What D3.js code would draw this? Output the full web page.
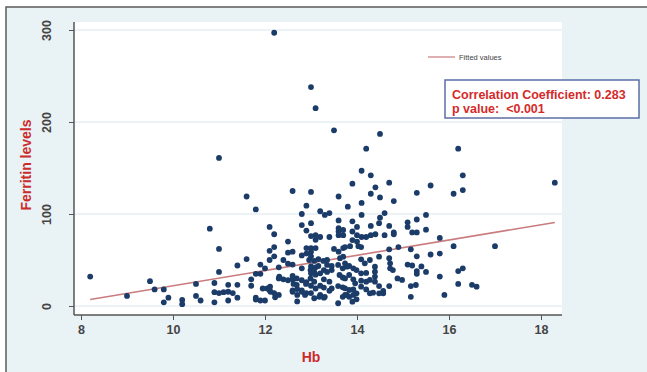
<!DOCTYPE html>
<html>
<head>
<meta charset="utf-8">
<script src="https://cdn.jsdelivr.net/npm/d3@7"></script>
<style>
  html, body { margin: 0; padding: 0; background: #ffffff; }
  svg { display: block; }
</style>
</head>
<body>
<svg id="chart" width="647" height="372"></svg>
<script>
// ---------------- data ----------------
const hb = [
  12.2, 13.0, 13.1, 11.0, 11.6, 11.8, 12.6, 13.0, 12.9, 12.8, 13.2, 13.3, 13.4, 13.5, 14.5, 14.2, 16.2, 14.1, 14.3, 16.3,
  14.7, 13.9, 15.6, 18.3, 14.4, 14.3, 14.5, 15.3, 16.1, 16.3, 13.6, 14.8, 14.1, 13.8, 14.6, 14.5, 14.1, 13.6, 13.9, 14.0,
  14.3, 14.7, 15.1, 15.1, 15.3, 15.5, 13.0, 12.8, 12.9, 13.1, 13.2, 13.4, 13.6, 13.6, 13.7, 13.9, 14.0, 14.1, 14.2, 14.3,
  14.4, 14.6, 14.8, 14.8, 15.2, 15.3, 15.5, 15.8, 17.0, 16.1, 15.8, 15.6, 15.3, 15.4, 15.5, 15.3, 15.3, 15.1, 15.2, 15.8,
  16.2, 16.3, 16.2, 16.5, 16.6, 15.9,
  8.2, 9.0, 9.5, 9.6, 9.8, 9.9, 9.8, 10.2, 10.2, 10.5, 10.5, 10.6, 10.8, 10.9, 10.9, 10.9, 11.0, 11.0, 11.0, 11.1,
  11.2, 11.2, 11.2, 11.3, 11.4, 11.4, 11.4, 11.6, 11.7, 11.7, 11.8, 11.8, 11.8, 11.9, 12.0, 11.9, 11.9, 12.0, 12.1, 12.2,
  12.1, 12.2, 12.1, 12.05, 12.1, 12.2, 12.3, 12.3, 12.4, 12.3, 12.5, 12.5, 12.6, 12.5, 12.5, 12.6, 12.6, 12.7, 12.7, 13.1,
  13.0, 13.1, 12.8, 13.0, 12.8, 13.0, 13.1, 13.0, 13.1, 13.2, 12.8, 12.9, 13.0, 13.1, 13.2, 12.8, 12.9, 13.0, 13.2, 13.3,
  13.6, 13.0, 12.9, 12.9, 13.0, 13.5, 13.6, 13.7, 12.2, 12.4, 12.6, 12.96, 13.07, 13.16, 13.27, 13.35, 13.16, 13.35, 13.45, 12.99,
  13.07, 13.28, 13.35, 13.45, 13.59, 13.69, 13.78, 13.62, 13.69, 12.31, 12.6, 12.69, 12.99, 13.07, 13.28, 13.40, 12.62, 12.69, 12.89, 13.28,
  13.40, 13.45, 13.59, 13.69, 11.95, 12.11, 12.12, 12.22, 12.6, 12.7, 12.8, 12.87, 13.07, 13.18, 13.28, 13.59, 13.69, 13.78,
  14.48, 13.70, 13.90, 14.0, 14.03, 14.09, 13.74, 13.85, 13.63, 13.70, 14.28, 14.70, 14.90, 15.17, 14.48, 14.70, 14.72, 14.72, 14.78, 14.39,
  14.39, 14.39, 14.88, 14.98, 14.09, 14.17, 13.74, 13.83, 13.92, 13.99, 14.09, 14.2, 13.74, 13.83, 13.92, 13.96, 14.09, 14.2, 14.28, 14.39,
  14.48, 14.57, 14.7, 14.28, 14.35, 14.48, 14.57, 15.17, 15.28, 15.17, 13.74, 13.83, 13.92, 13.99, 13.74, 13.83, 13.92, 14.09, 14.2, 13.9,
  13.99
];
const ferritin = [
  297, 238, 215, 161, 119, 105, 125, 124, 109, 100, 103, 99, 101, 191, 187, 171, 171, 147, 142, 142,
  134, 133, 131, 134, 129, 122, 118, 123, 122, 126, 119, 114, 112, 108, 101, 96, 99, 93, 92, 86,
  87, 87, 91, 86, 94, 99, 90, 88, 82, 77, 75, 75, 81, 77, 77, 81, 77, 75, 75, 77,
  78, 77, 80, 78, 80, 80, 83, 74, 65, 65, 57, 56, 54, 43, 37, 38, 35, 45, 44, 32,
  38, 41, 24, 23, 21, 12,
  32, 11, 27, 18, 18, 9, 4, 6.5, 2, 24, 11, 6, 84, 25, 15, 4, 62, 37, 14, 15,
  23, 15.5, 6, 14, 9, 23, 44, 51, 29, 22, 35, 9, 7, 45, 41, 35, 6, 6, 86, 78,
  60, 64, 50, 19, 17, 14, 12, 30, 29, 42, 70, 58, 59, 46, 28, 29, 17, 18.5, 5, 72,
  63, 63, 55, 54, 41, 43, 42, 35.5, 34, 35.5, 28, 26, 22, 19, 22, 17, 14, 14, 12, 10,
  84.5, 76, 63, 57, 59, 62, 59, 63, 54, 50, 45, 50, 49, 51, 49, 50, 43.5, 44.6, 43.5, 39,
  37, 39, 37, 39, 44.6, 41, 42.7, 33.7, 31, 32, 32.6, 30, 30, 26.4, 29, 26.4, 24, 23, 24, 20,
  16.6, 19, 21.7, 20.3, 19, 21, 15.5, 9.4, 15.5, 12, 15.5, 12, 8.4, 10, 9, 3, 10, 12,
  90, 82.6, 71.7, 70, 65, 64, 64, 65, 52, 53.6, 50, 61.6, 64, 61.6, 53.6, 52, 46.4, 41, 39, 42.7,
  37.3, 32, 30, 28.3, 50.7, 46.4, 46.4, 43.5, 41, 39, 35.5, 36, 30, 33.7, 29, 24.6, 27.5, 26.4, 28.3, 26.4,
  21.7, 16.3, 21.7, 13.8, 14.5, 13.8, 13.8, 21.7, 22.8, 10, 19.2, 17.4, 18, 13.8, 12, 10, 12, 21, 18, 4.7,
  7.3
];
const fittedHb = [8.2, 18.3];
const fittedFerritin = [7.0, 90.8];
const xTicks = [8, 10, 12, 14, 16, 18];
const yTicks = [0, 100, 200, 300];
const xLabel = "Hb";
const yLabel = "Ferritin levels";
const legendLabel = "Fitted values";
const statLines = ["Correlation Coefficient: 0.283", "p value:  <0.001"];

// ---------------- drawing ----------------
const svg = d3.select("#chart");
const W = 647, H = 372;
const plot = { left: 74, right: 562, top: 22, bottom: 315 };

const x = d3.scaleLinear().domain([8, 18]).range([81, 541]);
const y = d3.scaleLinear().domain([0, 300]).range([306, 30]);

// outer background & frame
svg.append("rect").attr("x", 6).attr("y", 7).attr("width", W - 6).attr("height", H - 7)
  .attr("fill", "#e9f2f5");
svg.append("path").attr("d", `M6,${H} L6,7 L${W},7`)
  .attr("fill", "none").attr("stroke", "#5a5a5a").attr("stroke-width", 1.5);

// plot region
svg.append("rect").attr("x", plot.left).attr("y", plot.top)
  .attr("width", plot.right - plot.left).attr("height", plot.bottom - plot.top)
  .attr("fill", "#ffffff");

// grid lines
svg.append("g").selectAll("line").data(yTicks).join("line")
  .attr("x1", plot.left).attr("x2", plot.right)
  .attr("y1", d => y(d)).attr("y2", d => y(d))
  .attr("stroke", "#e6eff3").attr("stroke-width", 1.5);

// axes
const fontFam = "'Liberation Sans', Arial, sans-serif";
const gx = svg.append("g").attr("transform", `translate(0,${plot.bottom})`)
  .call(d3.axisBottom(x).tickValues(xTicks).tickSize(5).tickPadding(5).tickFormat(d3.format("d")));
gx.select(".domain").remove();
gx.selectAll("line").attr("stroke", "#555").attr("stroke-width", 1);
gx.selectAll("text").attr("font-family", fontFam).attr("font-size", 12.5)
  .attr("font-weight", "bold").attr("fill", "#444");

const gy = svg.append("g").attr("transform", `translate(${plot.left},0)`)
  .call(d3.axisLeft(y).tickValues(yTicks).tickSize(5).tickFormat(d3.format("d")));
gy.select(".domain").remove();
gy.selectAll("line").attr("stroke", "#555").attr("stroke-width", 1);
gy.selectAll("text")
  .attr("font-family", fontFam).attr("font-size", 12.5).attr("font-weight", "bold").attr("fill", "#444")
  .attr("text-anchor", "middle").attr("dy", null).attr("x", null)
  .attr("transform", "translate(-27,0) rotate(-90)")
  .attr("dominant-baseline", "central");

// axis lines
svg.append("line").attr("x1", plot.left).attr("x2", plot.right)
  .attr("y1", plot.bottom).attr("y2", plot.bottom)
  .attr("stroke", "#555").attr("stroke-width", 1.5);
svg.append("line").attr("x1", plot.left).attr("x2", plot.left)
  .attr("y1", plot.top).attr("y2", plot.bottom)
  .attr("stroke", "#555").attr("stroke-width", 1.5);

// fitted line
const fitData = fittedHb.map((d, i) => [d, fittedFerritin[i]]);
svg.append("path").datum(fitData)
  .attr("d", d3.line().x(d => x(d[0])).y(d => y(d[1])))
  .attr("fill", "none").attr("stroke", "#c97b7e").attr("stroke-width", 1.6);

// points
const pts = hb.map((d, i) => [d, ferritin[i]]);
svg.append("g").selectAll("circle").data(pts).join("circle")
  .attr("cx", d => x(d[0])).attr("cy", d => y(d[1])).attr("r", 2.9)
  .attr("fill", "#1b3b68");

// axis titles
svg.append("text").attr("x", 311).attr("y", 357)
  .attr("text-anchor", "middle").attr("dominant-baseline", "central")
  .attr("font-family", fontFam).attr("font-weight", "bold").attr("font-size", 14)
  .attr("fill", "#cc2b2b").text(xLabel);
svg.append("text")
  .attr("transform", "translate(26,165) rotate(-90)")
  .attr("text-anchor", "middle").attr("dominant-baseline", "central")
  .attr("font-family", fontFam).attr("font-weight", "bold").attr("font-size", 14)
  .attr("fill", "#cc2b2b").text(yLabel);

// legend
svg.append("line").attr("x1", 428).attr("x2", 455).attr("y1", 57).attr("y2", 57)
  .attr("stroke", "#c97b7e").attr("stroke-width", 1.2);
svg.append("text").attr("x", 459).attr("y", 57).attr("dominant-baseline", "central")
  .attr("font-family", fontFam).attr("font-size", 7.5).attr("fill", "#444")
  .text(legendLabel);

// stats box
svg.append("rect").attr("x", 445).attr("y", 80).attr("width", 194).attr("height", 38)
  .attr("fill", "#ffffff").attr("stroke", "#5b6ea6").attr("stroke-width", 1.5);
svg.append("g").selectAll("text").data(statLines).join("text")
  .attr("x", 452).attr("y", (d, i) => 99 + i * 13.5)
  .attr("font-family", fontFam).attr("font-weight", "bold").attr("font-size", 12.5)
  .attr("fill", "#d42a2a").attr("xml:space", "preserve").style("white-space", "pre")
  .text(d => d);
</script>
</body>
</html>
